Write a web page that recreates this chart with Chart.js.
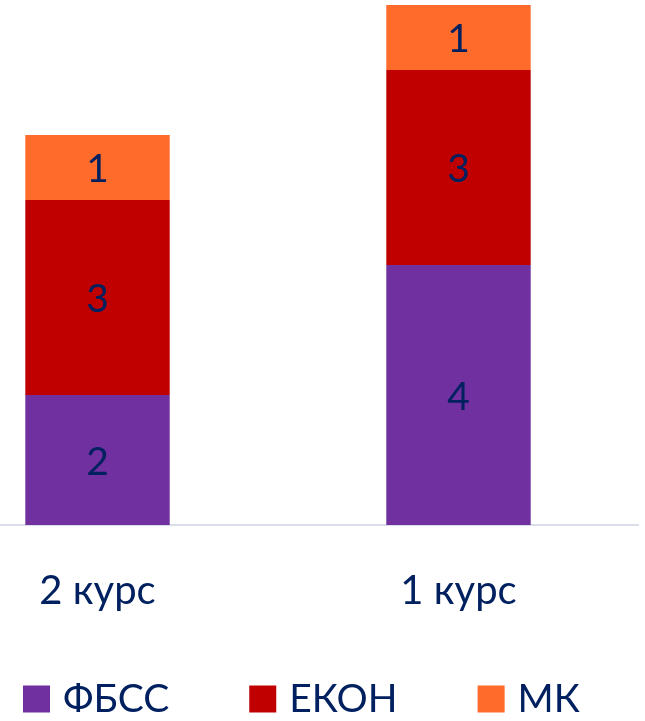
<!DOCTYPE html>
<html lang="uk">
<head>
  <meta charset="UTF-8" />
  <title>Курси</title>
  <script src="https://cdn.jsdelivr.net/npm/chart.js"></script>
  <style>
    html, body { margin: 0; padding: 0; background: #fff; overflow: hidden; }
    #wrap { position: absolute; left: -83px; top: 0; width: 722px; height: 721px; }
  </style>
</head>
<body>
  <div id="wrap"><canvas id="chart"></canvas></div>

  <script>
    const courses = ['2 курс', '1 курс'];
    const fbss = [2, 4];
    const ekon = [3, 3];
    const mk = [1, 1];
    const seriesNames = ['ФБСС', 'ЕКОН', 'МК'];

    const textColor = '#002060';
    const fontFamily = 'Lato, "Open Sans", sans-serif';
    const fontSize = 39;

    // numbers in the middle of each segment
    const segmentLabels = {
      id: 'segmentLabels',
      afterDatasetsDraw(chart) {
        const ctx = chart.ctx;
        ctx.save();
        ctx.font = fontSize + 'px ' + fontFamily;
        ctx.fillStyle = textColor;
        ctx.textAlign = 'center';
        ctx.textBaseline = 'middle';
        chart.data.datasets.forEach((ds, i) => {
          chart.getDatasetMeta(i).data.forEach((bar, j) => {
            ctx.fillText(ds.data[j], bar.x, (bar.y + bar.base) / 2 + 2);
          });
        });
        ctx.restore();
      }
    };

    // one-row legend under the axis, spaced like the original
    const bottomLegend = {
      id: 'bottomLegend',
      afterDraw(chart) {
        const ctx = chart.ctx;
        const box = 27, gap = 13, itemGap = 80;
        const yMid = chart.height - 22;
        let x = 106;
        ctx.save();
        ctx.font = fontSize + 'px ' + fontFamily;
        ctx.textBaseline = 'middle';
        ctx.textAlign = 'left';
        chart.data.datasets.forEach(ds => {
          ctx.fillStyle = ds.backgroundColor;
          ctx.fillRect(x, yMid - box / 2, box, box);
          ctx.fillStyle = textColor;
          ctx.fillText(ds.label, x + box + gap, yMid);
          x += box + gap + ctx.measureText(ds.label).width + itemGap;
        });
        ctx.restore();
      }
    };

    new Chart(document.getElementById('chart'), {
      type: 'bar',
      data: {
        labels: courses,
        datasets: [
          { label: seriesNames[0], data: fbss, backgroundColor: '#7030A0' },
          { label: seriesNames[1], data: ekon, backgroundColor: '#C00000' },
          { label: seriesNames[2], data: mk, backgroundColor: '#FF6B2B' }
        ]
      },
      options: {
        responsive: true,
        maintainAspectRatio: false,
        animation: false,
        layout: { padding: { top: 5, left: 0, right: 0, bottom: 96 } },
        datasets: { bar: { categoryPercentage: 0.4, barPercentage: 1, borderWidth: 0 } },
        scales: {
          x: {
            stacked: true,
            grid: { display: false },
            border: { color: '#D9DEE8', width: 2 },
            ticks: { color: textColor, font: { family: fontFamily, size: 40 }, padding: 34 },
            afterFit(scale) { scale.height = 100; }
          },
          y: { stacked: true, display: false, min: 0, max: 8 }
        },
        plugins: {
          tooltip: { enabled: false },
          legend: { display: false }
        }
      },
      plugins: [segmentLabels, bottomLegend]
    });
  </script>
</body>
</html>
